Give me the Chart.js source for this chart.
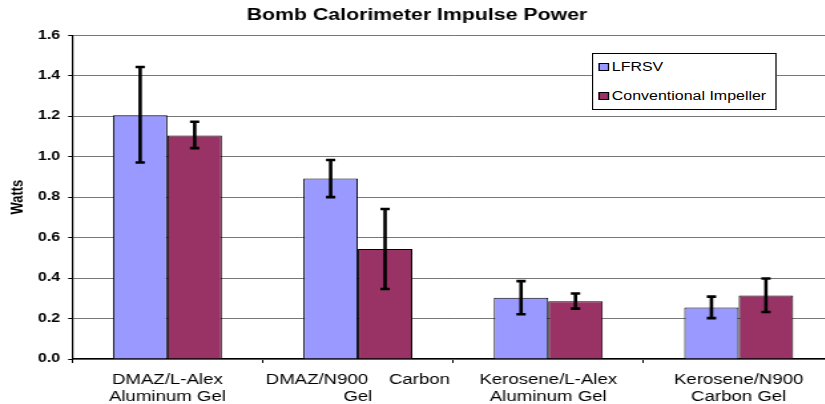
<!DOCTYPE html>
<html>
<head>
<meta charset="utf-8">
<script src="https://cdn.jsdelivr.net/npm/chart.js@4"></script>
<style>
  html, body { margin: 0; padding: 0; background: #fff; overflow: hidden; }
  /* the reference looks horizontally stretched, so draw narrow and stretch */
  #wrap { position: relative; width: 630px; height: 404px; transform: scaleX(1.33); transform-origin: 0 0; }
  #legend {
    position: absolute; left: 445px; top: 53px; width: 137px; height: 55px;
    border: 1px solid #000; background: #fff;
    font: 12px Arial, "Liberation Sans", sans-serif; color: #000;
  }
  #legend div { position: absolute; left: 4px; white-space: nowrap; line-height: 14px; }
  #legend span {
    display: inline-block; width: 6px; height: 6px; border: 1px solid #000;
    margin-right: 2px; vertical-align: 0px;
  }
</style>
</head>
<body>
<div id="wrap">
  <canvas id="powerChart" width="630" height="404"></canvas>
  <div id="legend"></div>
</div>
<script>
    const categories = [
      ["DMAZ/L-Alex", "Aluminum Gel"],
      ["DMAZ/N900    Carbon", "Gel"],
      ["Kerosene/L-Alex", "Aluminum Gel"],
      ["Kerosene/N900", "Carbon Gel"]
    ];
    const lfrsv = [1.205, 0.892, 0.303, 0.255];
    const lfrsvHigh = [1.443, 0.983, 0.385, 0.308];
    const lfrsvLow = [0.971, 0.800, 0.221, 0.202];
    const conventional = [1.104, 0.543, 0.285, 0.314];
    const conventionalHigh = [1.172, 0.741, 0.324, 0.398];
    const conventionalLow = [1.042, 0.346, 0.249, 0.232];
    const yTicks = [0, 0.2, 0.4, 0.6, 0.8, 1.0, 1.2, 1.4, 1.6];

    const errorBars = {
      id: "errorBars",
      afterDatasetsDraw(chart) {
        const ctx = chart.ctx;
        const y = chart.scales.y;
        chart.data.datasets.forEach((ds, i) => {
          const meta = chart.getDatasetMeta(i);
          meta.data.forEach((bar, j) => {
            const top = y.getPixelForValue(ds.errHigh[j]);
            const bottom = y.getPixelForValue(ds.errLow[j]);
            ctx.save();
            ctx.strokeStyle = "#000";
            ctx.lineWidth = 2.6;
            ctx.beginPath();
            ctx.moveTo(bar.x, top);
            ctx.lineTo(bar.x, bottom);
            ctx.moveTo(bar.x - 3.5, top);
            ctx.lineTo(bar.x + 3.5, top);
            ctx.moveTo(bar.x - 3.5, bottom);
            ctx.lineTo(bar.x + 3.5, bottom);
            ctx.stroke();
            ctx.restore();
          });
        });
      }
    };

    const font = 'Arial, "Liberation Sans", sans-serif';
    const powerCtx = document.getElementById("powerChart").getContext("2d");
    const powerChart = new Chart(powerCtx, {
        type: "bar",
    data: {
        labels: categories,
    datasets: [
    {
        label: "LFRSV",
    data: lfrsv,
    errHigh: lfrsvHigh,
    errLow: lfrsvLow,
    backgroundColor: "#9999FF",
    borderColor: "#000",
    borderWidth: 1,
            },
    {
        label: "Conventional Impeller",
    data: conventional,
    errHigh: conventionalHigh,
    errLow: conventionalLow,
    backgroundColor: "#993366",
    borderColor: "#000",
    borderWidth: 1,
            },
    ],
        },
    options: {
        responsive: false,
    animation: false,
    categoryPercentage: 0.572,
    barPercentage: 1.0,
    layout: { padding: { left: 0, right: 3, top: 0, bottom: -10 } },
    plugins: {
        legend: { display: false },
    tooltip: { enabled: false },
    title: {
        display: true,
    text: "Bomb Calorimeter Impulse Power",
    color: "#000",
    font: { family: font, size: 16, weight: "bold" },
    padding: { top: 6, bottom: 10 },
            },
        },
    scales: {
        x: {
            offset: true,
    grid: { offset: true, drawOnChartArea: false, tickLength: 4, color: "#000" },
    border: { color: "#000", width: 1.2 },
    ticks: { color: "#000", font: { family: font, size: 14, lineHeight: 1.214 }, padding: 8.5, maxRotation: 0, autoSkip: false },
            },
    y: {
        min: 0,
    max: 1.6,
    afterBuildTicks: (axis) => { axis.ticks = yTicks.map(v => ({ value: v })); },
    grid: { color: "#777", lineWidth: 1, tickLength: 3, tickColor: "#000" },
    border: { color: "#000", width: 1.2 },
    ticks: {
        color: "#000",
    font: { family: font, size: 12, weight: "bold" },
    padding: 6,
    callback: (v) => Number(v).toFixed(1),
            },
    title: {
        display: true,
    text: "Watts",
    color: "#000",
    font: { family: font, size: 13, weight: "bold" },
    padding: { top: 6, bottom: 1 },
            },
        },
        },
    },
    plugins: [errorBars],
      });

    const legend = document.getElementById("legend");
    powerChart.data.datasets.forEach((ds, i) => {
      const row = document.createElement("div");
      row.style.top = (i === 0 ? 6 : 35) + "px";
      row.innerHTML = '<span style="background:' + ds.backgroundColor + '"></span>' + ds.label;
      legend.appendChild(row);
    });
</script>
</body>
</html>
